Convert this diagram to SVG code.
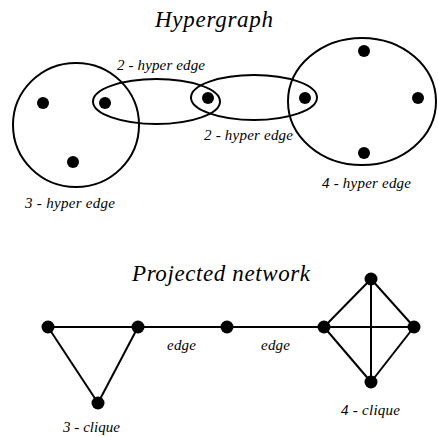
<svg xmlns="http://www.w3.org/2000/svg" width="438" height="437" viewBox="0 0 438 437">
<style>
.title{font-size:23px}
.lab{font-size:15px}
.he{fill:none;stroke:#000;stroke-width:2}
.e{stroke:#000;stroke-width:2;fill:none}
.n{fill:#000}
</style>
<rect width="438" height="437" fill="#fff"/>
<g font-family="Liberation Serif, Times New Roman, serif" font-style="italic" fill="#000">
<text class="title" x="155" y="27" textLength="118">Hypergraph</text>
<text class="lab" x="117" y="70" textLength="88">2 - hyper edge</text>
<text class="lab" x="204" y="140" textLength="89">2 - hyper edge</text>
<text class="lab" x="322" y="188" textLength="89">4 - hyper edge</text>
<text class="lab" x="25" y="208" textLength="90">3 - hyper edge</text>
<text class="title" x="132" y="281" textLength="178">Projected network</text>
<text class="lab" x="167" y="350" textLength="29">edge</text>
<text class="lab" x="261" y="350" textLength="29">edge</text>
<text class="lab" x="63" y="432" textLength="57">3 - clique</text>
<text class="lab" x="341" y="415" textLength="59">4 - clique</text>
</g>
<g id="hyperedges">
<ellipse id="he3" class="he" cx="76" cy="125" rx="63" ry="62"/>
<ellipse id="he2a" class="he" cx="156.5" cy="101.5" rx="63.5" ry="22.5"/>
<ellipse id="he2b" class="he" cx="254" cy="97.5" rx="63" ry="22.5"/>
<ellipse id="he4" class="he" cx="362" cy="101.5" rx="74" ry="63.5"/>
</g>
<g id="hnodes">
<g id="h1"><circle class="n" cx="43" cy="103" r="6"/></g>
<g id="h2"><circle class="n" cx="73" cy="162" r="6"/></g>
<g id="h3"><circle class="n" cx="105" cy="103" r="6"/></g>
<g id="h4"><circle class="n" cx="208" cy="98" r="6"/></g>
<g id="h5"><circle class="n" cx="305" cy="98" r="6"/></g>
<g id="h6"><circle class="n" cx="364" cy="51" r="6"/></g>
<g id="h7"><circle class="n" cx="418" cy="98" r="6"/></g>
<g id="h8"><circle class="n" cx="364" cy="153" r="6"/></g>
</g>
<g id="connectors">
<line class="e" x1="48" y1="327" x2="324" y2="327"/>
<line class="e" x1="48" y1="327" x2="98" y2="403"/>
<line class="e" x1="138" y1="327" x2="98" y2="403"/>
<line class="e" x1="324" y1="327" x2="371" y2="279"/>
<line class="e" x1="371" y1="279" x2="414" y2="327"/>
<line class="e" x1="414" y1="327" x2="371" y2="382"/>
<line class="e" x1="371" y1="382" x2="324" y2="327"/>
<line class="e" x1="371" y1="279" x2="371" y2="382"/>
<line class="e" x1="324" y1="327" x2="414" y2="327"/>
</g>
<g id="p1"><circle class="n" cx="48" cy="327" r="6.5"/></g>
<g id="p2"><circle class="n" cx="138" cy="327" r="6.5"/></g>
<g id="p3"><circle class="n" cx="98" cy="403" r="6.5"/></g>
<g id="p4"><circle class="n" cx="227" cy="327" r="6.5"/></g>
<g id="p5"><circle class="n" cx="324" cy="327" r="6.5"/></g>
<g id="p6"><circle class="n" cx="371" cy="279" r="6.5"/></g>
<g id="p7"><circle class="n" cx="414" cy="327" r="6.5"/></g>
<g id="p8"><circle class="n" cx="371" cy="382" r="6.5"/></g>
</svg>
